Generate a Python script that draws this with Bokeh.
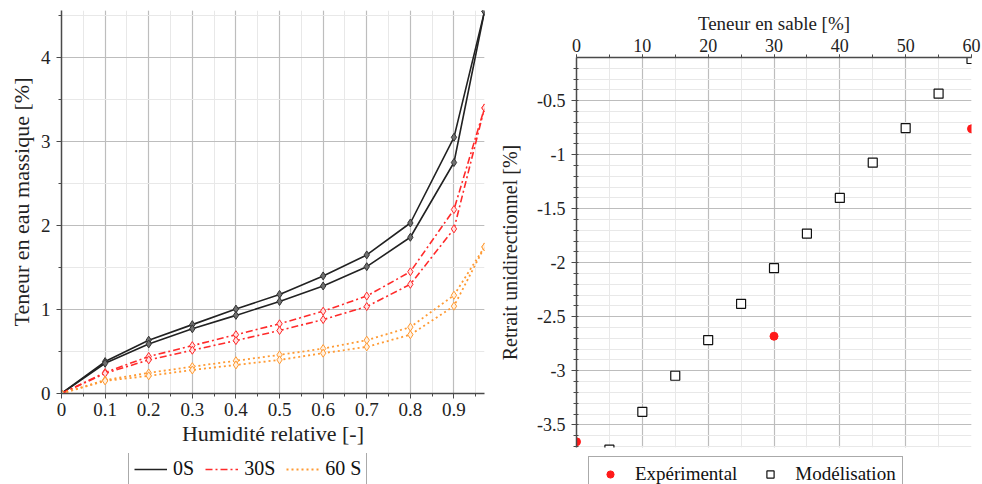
from bokeh.plotting import figure
from bokeh.models import (Range1d, SingleIntervalTicker, Legend, LegendItem,
                          CustomJSTickFormatter)
from bokeh.layouts import row, column
from bokeh.embed import file_html
from bokeh.resources import INLINE

# ---------------- data (left chart) ----------------
hr = [0, 0.1, 0.2, 0.3, 0.4, 0.5, 0.6, 0.7, 0.8, 0.9, 0.97]
s0_a = [0, 0.38, 0.635, 0.82, 1.005, 1.18, 1.40, 1.65, 2.03, 3.05, 4.55]
s0_b = [0, 0.36, 0.59, 0.77, 0.93, 1.095, 1.28, 1.51, 1.86, 2.75, 4.55]
s30_a = [0, 0.25, 0.44, 0.57, 0.70, 0.83, 0.98, 1.16, 1.45, 2.19, 3.40]
s30_b = [0, 0.24, 0.40, 0.515, 0.63, 0.75, 0.88, 1.035, 1.30, 1.96, 3.40]
s60_a = [0, 0.16, 0.245, 0.32, 0.39, 0.46, 0.535, 0.635, 0.79, 1.17, 1.745]
s60_b = [0, 0.15, 0.21, 0.28, 0.34, 0.40, 0.48, 0.555, 0.70, 1.04, 1.745]
left_labels = ["0S", "30S", "60 S"]

# ---------------- data (right chart) ----------------
sand_exp = [0, 30, 60]
retrait_exp = [-3.657, -2.68, -0.76]
sand_mod = [5, 10, 15, 20, 25, 30, 35, 40, 45, 50, 55, 60]
retrait_mod = [-3.73, -3.38, -3.046, -2.716, -2.38, -2.05, -1.73, -1.40,
               -1.074, -0.753, -0.435, -0.114]
right_labels = ["Expérimental", "Modélisation"]

SERIF = "Liberation Serif"
MAJ = "#bdbdbd"
MIN = "#e8e8e8"
AX = "#4a4a4a"
black, red, orange = "#222222", "#ff2a2a", "#ff9a33"

fmt = CustomJSTickFormatter(code="return String(Math.round(tick*100)/100);")


def style_axis(ax, tick_size, label_size):
    ax.axis_line_color = AX
    ax.axis_line_width = 1.5
    ax.major_tick_line_color = AX
    ax.minor_tick_line_color = AX
    ax.major_tick_out = 5
    ax.major_tick_in = 0
    ax.minor_tick_out = 3
    ax.minor_tick_in = 0
    ax.major_label_text_font = SERIF
    ax.major_label_text_font_size = tick_size
    ax.major_label_text_color = "#222222"
    ax.axis_label_text_font = SERIF
    ax.axis_label_text_font_size = label_size
    ax.axis_label_text_font_style = "normal"
    ax.axis_label_text_color = "#222222"


def style_legend(leg, size):
    leg.label_text_font = SERIF
    leg.label_text_font_size = size
    leg.label_text_color = "#111111"
    leg.margin = 0
    leg.border_line_color = "#555555"
    leg.border_line_width = 1.5
    leg.background_fill_color = "white"
    leg.background_fill_alpha = 1


def strip(width):
    # legend strip: same data, ranges chosen so that no mark is in view
    f = figure(width=width, height=31, output_backend="svg",
               toolbar_location=None, x_range=Range1d(1000, 1001),
               y_range=Range1d(1000, 1001), x_axis_location=None,
               y_axis_location=None, min_border=0)
    f.frame_align = False
    f.outline_line_color = None
    f.grid.visible = False
    return f


# ================= left figure =================
p1 = figure(width=496, height=453, output_backend="svg", toolbar_location=None,
            x_range=Range1d(0, 0.97), y_range=Range1d(0, 4.56),
            min_border_left=61, min_border_right=12, min_border_top=10,
            min_border_bottom=60)
p1.frame_align = False
p1.outline_line_color = None

xt = SingleIntervalTicker(interval=0.1, num_minor_ticks=2)
yt = SingleIntervalTicker(interval=1, num_minor_ticks=2)
p1.xaxis.ticker = xt
p1.yaxis.ticker = yt
p1.xgrid.ticker = xt
p1.ygrid.ticker = yt
p1.xaxis.formatter = fmt
p1.yaxis.formatter = fmt
for g in (p1.xgrid, p1.ygrid):
    g.grid_line_color = MAJ
    g.grid_line_width = 1.2
    g.minor_grid_line_color = MIN
    g.minor_grid_line_width = 1
style_axis(p1.xaxis[0], "19px", "22px")
style_axis(p1.yaxis[0], "19px", "22px")
p1.xaxis.axis_label = "Humidité relative [-]"
p1.yaxis.axis_label = "Teneur en eau massique [%]"
p1.xaxis.major_label_standoff = 4
p1.xaxis.axis_label_standoff = 2
p1.yaxis.major_label_standoff = 6
p1.yaxis.axis_label_standoff = 4

for ys in (s0_a, s0_b):
    p1.line(hr, ys, line_color=black, line_width=1.6)
    p1.scatter(hr, ys, marker="diamond", size=8, fill_color="#707070",
               line_color="#333333", line_width=1)
for ys in (s30_a, s30_b):
    p1.line(hr, ys, line_color=red, line_width=1.6, line_dash="7 3 2 3")
    p1.scatter(hr, ys, marker="diamond", size=8, fill_color="#ffe0e0",
               line_color=red, line_width=1)
for ys in (s60_a, s60_b):
    p1.line(hr, ys, line_color=orange, line_width=1.8, line_dash="2 3")
    p1.scatter(hr, ys, marker="diamond", size=8, fill_color="#fff0e0",
               line_color=orange, line_width=1)

# legend strip under the left chart
l1 = strip(496)
g0 = l1.line(hr, s0_a, line_color=black, line_width=1.6)
g30 = l1.line(hr, s30_a, line_color=red, line_width=1.6, line_dash="7 3 2 3")
g60 = l1.line(hr, s60_a, line_color=orange, line_width=1.8, line_dash="2 3")
leg1 = Legend(items=[LegendItem(label=left_labels[0], renderers=[g0]),
                     LegendItem(label=left_labels[1], renderers=[g30]),
                     LegendItem(label=left_labels[2], renderers=[g60])],
              orientation="horizontal", location=(128, -2))
style_legend(leg1, "20px")
leg1.glyph_width = 33
leg1.glyph_height = 20
leg1.label_standoff = 6
leg1.spacing = 11
leg1.padding = 5
l1.add_layout(leg1)

# ================= right figure =================
p2 = figure(width=486, height=453, output_backend="svg", toolbar_location=None,
            x_range=Range1d(0, 60), y_range=Range1d(-3.71, -0.1),
            x_axis_location="above",
            min_border_left=79, min_border_right=11, min_border_top=57,
            min_border_bottom=6)
p2.frame_align = False
p2.outline_line_color = None
xt2 = SingleIntervalTicker(interval=10, num_minor_ticks=2)
yt2 = SingleIntervalTicker(interval=0.5, num_minor_ticks=5)
p2.xaxis.ticker = xt2
p2.yaxis.ticker = yt2
p2.xgrid.ticker = xt2
p2.ygrid.ticker = yt2
p2.xaxis.formatter = fmt
p2.yaxis.formatter = fmt
for g in (p2.xgrid, p2.ygrid):
    g.grid_line_color = MAJ
    g.grid_line_width = 1.2
    g.minor_grid_line_color = MIN
    g.minor_grid_line_width = 1
style_axis(p2.xaxis[0], "18px", "19px")
style_axis(p2.yaxis[0], "18px", "20px")
p2.xaxis.major_tick_out = 3
p2.yaxis.minor_tick_in = 2
p2.xaxis.axis_label = "Teneur en sable [%]"
p2.yaxis.axis_label = "Retrait unidirectionnel [%]"
p2.xaxis.major_label_standoff = 3
p2.xaxis.axis_label_standoff = 2
p2.yaxis.major_label_standoff = 6
p2.yaxis.axis_label_standoff = 13

p2.scatter(sand_mod, retrait_mod, marker="square", size=9,
           fill_color="white", line_color="#111111", line_width=1.2)
p2.scatter(sand_exp, retrait_exp, marker="circle", size=8,
           fill_color="#ff1a1a", line_color="#ff1a1a")

# legend strip under the right chart
l2 = strip(486)
ge = l2.scatter(sand_exp, retrait_exp, marker="circle", size=8,
                fill_color="#ff1a1a", line_color="#ff1a1a")
gm = l2.scatter(sand_mod, retrait_mod, marker="square", size=9,
                fill_color="white", line_color="#111111", line_width=1.2)
leg2 = Legend(items=[LegendItem(label=right_labels[0], renderers=[ge]),
                     LegendItem(label=right_labels[1], renderers=[gm])],
              orientation="horizontal", location=(92, -8))
style_legend(leg2, "19px")
leg2.glyph_width = 30
leg2.glyph_height = 18
leg2.label_standoff = 10
leg2.spacing = 18
leg2.padding = 6
l2.add_layout(leg2)

layout = column(row(p1, p2), row(l1, l2))
open("out.html", "w").write(file_html(layout, INLINE))
